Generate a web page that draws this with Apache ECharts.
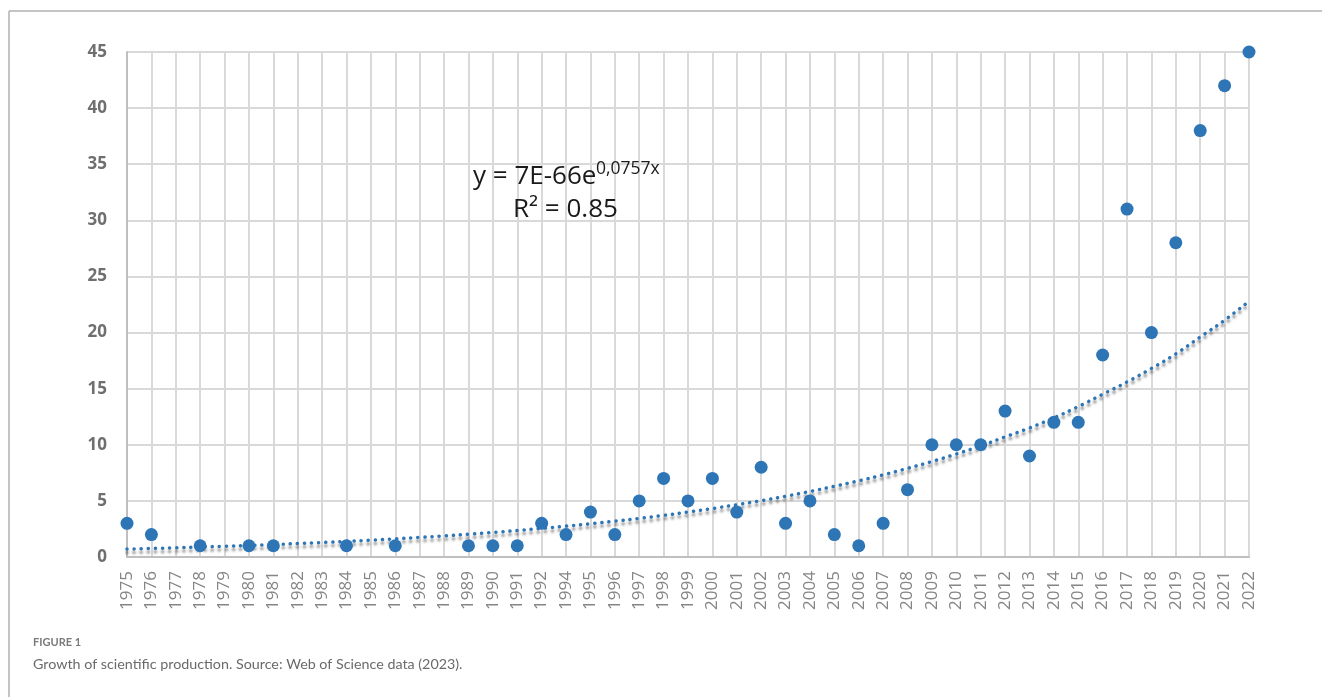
<!DOCTYPE html>
<html>
<head>
<meta charset="utf-8">
<script src="https://cdn.jsdelivr.net/npm/echarts@6/dist/echarts.min.js"></script>
<style>
  html, body { margin: 0; padding: 0; background: #fff; }
  #chart { width: 1322px; height: 697px; }
</style>
</head>
<body>
<div id="chart"></div>
<script>
// Publication years (1993 has no entry on the axis)
const years = ['1975','1976','1977','1978','1979','1980','1981','1982','1983','1984','1985','1986',
  '1987','1988','1989','1990','1991','1992','1994','1995','1996','1997','1998','1999','2000',
  '2001','2002','2003','2004','2005','2006','2007','2008','2009','2010','2011','2012','2013',
  '2014','2015','2016','2017','2018','2019','2020','2021','2022'];

// Number of publications per year ('-' = no publications recorded)
const publications = [3, 2, '-', 1, '-', 1, 1, '-', '-', 1, '-', 1,
  '-', '-', 1, 1, 1, 3, 2, 4, 2, 5, 7, 5, 7,
  4, 8, 3, 5, 2, 1, 3, 6, 10, 10, 10, 13, 9,
  12, 12, 18, 31, 20, 28, 38, 42, 45];

// Exponential trend line values along the same categories
const trend = [0.71, 0.76, 0.82, 0.89, 0.96, 1.03, 1.11, 1.20, 1.29, 1.39, 1.50, 1.62,
  1.75, 1.88, 2.03, 2.19, 2.36, 2.55, 2.75, 2.96, 3.19, 3.44, 3.71, 4.00, 4.32,
  4.66, 5.02, 5.41, 5.84, 6.30, 6.79, 7.32, 7.90, 8.51, 9.18, 9.90, 10.7, 11.5,
  12.4, 13.4, 14.5, 15.6, 16.8, 18.1, 19.6, 21.1, 22.8];

const yTicks = { min: 0, max: 45, interval: 5 };

const chart = echarts.init(document.getElementById('chart'), null, { renderer: 'canvas' });

const eqFont = { fontFamily: 'Open Sans', fill: '#1a1a1a' };

chart.setOption({
  animation: false,
  backgroundColor: '#ffffff',
  grid: { left: 127, right: 73, top: 52, bottom: 140, containLabel: false },
  xAxis: {
    type: 'category',
    data: years,
    boundaryGap: false,
    axisLine: { show: true, lineStyle: { color: '#bfbfbf', width: 2 } },
    axisTick: { show: false },
    splitLine: { show: true, interval: 0, lineStyle: { color: '#d9d9d9', width: 2 } },
    axisLabel: {
      interval: 0,
      rotate: 90,
      margin: 14,
      color: '#858585',
      fontFamily: 'Open Sans',
      fontSize: 17
    }
  },
  yAxis: {
    type: 'value',
    min: yTicks.min,
    max: yTicks.max,
    interval: yTicks.interval,
    axisLine: { show: true, lineStyle: { color: '#bfbfbf', width: 2 } },
    axisTick: { show: false },
    splitLine: { show: true, lineStyle: { color: '#d9d9d9', width: 2 } },
    axisLabel: {
      margin: 20,
      color: '#6f6f6f',
      fontFamily: 'Open Sans',
      fontWeight: 'bold',
      fontSize: 17
    }
  },
  series: [
    {
      name: 'Trend',
      type: 'line',
      data: trend,
      smooth: true,
      symbol: 'none',
      z: 3,
      lineStyle: {
        color: '#2e75b6',
        width: 3.5,
        type: [0.1, 7],
        cap: 'round',
        shadowColor: 'rgba(0,0,0,0.45)',
        shadowBlur: 2.5,
        shadowOffsetY: 3.5
      }
    },
    {
      name: 'Publications',
      type: 'scatter',
      data: publications,
      symbol: 'circle',
      symbolSize: 13,
      z: 4,
      itemStyle: { color: '#2e75b6', opacity: 1 }
    }
  ],
  graphic: [
    // outer frame
    { type: 'line', shape: { x1: 9, y1: 11, x2: 1322, y2: 11 }, style: { stroke: '#b0b0b0', lineWidth: 1.5 } },
    { type: 'line', shape: { x1: 9, y1: 11, x2: 9, y2: 697 }, style: { stroke: '#b0b0b0', lineWidth: 1.5 } },
    // trend equation
    {
      type: 'text', left: 473, top: 164, z: 10,
      style: Object.assign({ text: 'y = 7E-66e', fontSize: 26 }, eqFont)
    },
    {
      type: 'text', left: 596, top: 160, z: 10,
      style: Object.assign({ text: '0,0757x', fontSize: 17.5 }, eqFont)
    },
    {
      type: 'text', left: 513, top: 197, z: 10,
      style: Object.assign({ text: 'R² = 0.85', fontSize: 26 }, eqFont)
    },
    // caption
    {
      type: 'text',
      left: 33,
      top: 637,
      style: { text: 'FIGURE 1', fontFamily: 'Lato', fontWeight: 'bold', fontSize: 11, fill: '#7a7a7a' }
    },
    {
      type: 'text',
      left: 33,
      top: 657,
      style: { text: 'Growth of scientific production. Source: Web of Science data (2023).', fontFamily: 'Lato', fontSize: 14.3, fill: '#6a6a6a' }
    }
  ]
});
</script>
</body>
</html>
